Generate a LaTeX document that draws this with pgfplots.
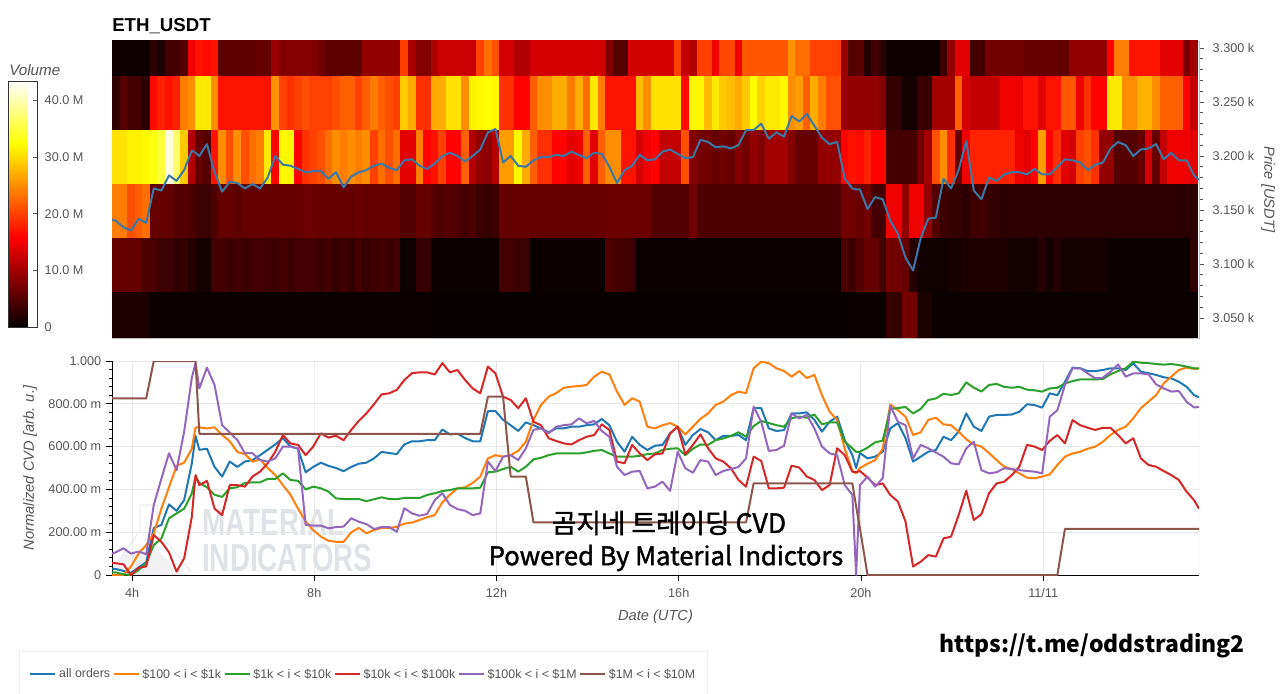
\documentclass[border=0pt]{standalone}
\usepackage{fontspec}
\setmainfont{Liberation Sans}
\newfontfamily\cjk[FakeBold=1.5]{Noto Sans CJK KR}
\newfontfamily\cjkb{Noto Sans CJK KR}
\usepackage{pgfplots}
\usepackage{pgfplotstable}
\pgfplotsset{compat=1.18}

\definecolor{tickc}{HTML}{555555}
\definecolor{gridc}{HTML}{E8E8E8}
\definecolor{markc}{HTML}{DFE2E6}
\definecolor{c1}{HTML}{1F77B4}
\definecolor{c2}{HTML}{FF7F0E}
\definecolor{c3}{HTML}{2CA02C}
\definecolor{c4}{HTML}{D62728}
\definecolor{c5}{HTML}{9467BD}
\definecolor{c6}{HTML}{8C564B}
\definecolor{pricec}{HTML}{3A78A8}

\pgfdeclareplotmark{cell}{%
  \pgfpathrectangle{\pgfpoint{-2.95pt}{-20.4pt}}{\pgfpoint{5.9pt}{40.8pt}}%
  \pgfusepathqfill}

% volume per 10 minute bin and price level, in millions
\pgfplotstableread{
x r3050 r3100 r3150 r3200 r3250 r3300
3.644 1.5 6 24 30.5 2.5 .5
3.811 1.5 6 24 30.5 5 .5
3.977 1.5 6 21 31.5 4 .5
4.144 1.5 6 22 31.5 4 .5
4.311 1.5 4.5 23 32 2.5 .5
4.477 .3 4.5 6 33 16.5 2.5
4.644 .3 3.5 6 35 18 1.5
4.811 .3 3.5 6 42 17 4
4.977 .3 2.5 5 37 18 4
5.144 .3 3 5 29 24 5
5.311 .3 2 4.5 11 25 15
5.477 .3 1 3.5 6 31 17
5.644 .3 1 3.5 5 31 16.5
5.811 .3 4 4.5 17 25 17
5.977 .3 4 6 25 17 5.5
6.144 .3 3.5 6 21 17 5.5
6.311 .3 4 5.5 25 17 5.5
6.477 .3 3.5 6 21 17 5.5
6.644 .3 4 6 23 17 5.5
6.811 .3 4 6 24 17 6
6.977 .3 3.5 6 31 17 6
7.144 .3 3.5 6 16 25.5 9.5
7.311 .3 4 6 32 20 8
7.477 .3 3.5 6 32 19 8
7.644 .3 4 6 16 20 8
7.811 .3 4 6.5 19 21 8
7.977 .3 4 6.5 20 20 8
8.144 .3 3.5 6 21 20 7
8.311 .3 4 6 23 20 5.5
8.477 .3 3 6 25 21 5.5
8.644 .3 3.5 6 24 22 5.5
8.811 .3 3 6 25 22 5.5
8.977 .3 4 6.5 24 20 5.5
9.144 .3 3 6 25 22 9
9.311 .3 3.5 6 20 24 9
9.477 .3 4 6 23 22 9
9.644 .3 3.5 6 21 21 9
9.811 .3 4 6 23 20 9
9.977 .3 .5 5 14 29 20
10.144 .3 .5 5 14 27 10.5
10.311 .3 3 6 24 19 8
10.477 .3 3 6 16 19 8
10.644 .2 .3 5 17 27 10.5
10.811 .2 .3 4.5 20 27 12.5
10.977 .2 .3 5 16 30.5 12.5
11.144 .2 .3 4.5 16 30.5 12.5
11.311 .2 .3 4 22 25 12.5
11.477 .2 .3 4.5 11 31.5 12.5
11.644 .2 .3 3.5 9 32 20
11.811 .2 .3 3 8.5 32.5 23
11.977 .2 .3 3.5 11 32 21
12.144 .2 4 6 26 19 13
12.311 .2 4 6 26 19 13
12.477 .2 3.5 6 32 16 11
12.644 .2 3.5 6 27 16 11
12.811 .2 .3 6 22 22 13
12.977 .2 .3 6 19 25 13
13.144 .2 .3 6 19 25 13
13.311 .2 .3 6 16 27 13
13.477 .2 .3 6 16 27 13
13.644 .2 .3 6 14 24 13
13.811 .2 .3 6 15 27 13
13.977 .2 .3 6 22 23 13
14.144 .2 .3 6 14 31 13
14.311 .2 .3 6 22 24 13
14.477 .2 4.5 6.5 25 17 8
14.644 .2 4 6.5 25 17 5
14.811 .2 4 6.5 17 17 5
14.977 .2 3.5 6.5 17 17 13
15.144 .2 .3 6.5 13 28 13
15.311 .2 .3 6.5 15 25 13
15.477 .2 .3 5 16 30.5 13
15.644 .2 .3 5 12 30.5 13
15.811 .2 .3 5 12 30.5 13
15.977 .2 .3 5 12 30.5 20
16.144 .2 .3 5 21 16.5 12
16.311 .2 .3 7 8 32 11
16.477 .2 .3 4.5 7 32 20
16.644 .2 .3 4.5 7 28 20
16.811 .2 .3 4.5 6 31 15
16.977 .2 .3 4.5 7 29 20.5
17.144 .2 .3 4.5 6 28 20.5
17.311 .2 .3 4.5 8 27 15
17.477 .2 .3 4.5 7 29 21.5
17.644 .2 .3 4.5 9 32.5 21.5
17.811 .2 .3 4.5 8 29.5 21.5
17.977 .2 .3 4.5 10 31 21.5
18.144 .2 .3 4.5 10 31 21.5
18.311 .2 .3 4.5 10 32 21.5
18.477 .2 .3 4.5 8 25 25.5
18.644 .2 .3 4.5 6 26 23
18.811 .2 .3 4.5 6 22 23
18.977 .2 .3 4.5 6 27 20
19.144 .2 .3 4.5 9 24 20
19.311 .2 .3 4.5 9 21 20
19.477 .2 .3 4.5 9 21 20
19.644 .2 4.5 7 16 9.5 9.5
19.811 .4 3.5 7 17 9 5
19.977 .4 5 6 16.5 9 5.5
20.144 .4 6 7 18 9 2
20.311 .4 6 4 16 9 4
20.477 .4 4 4 16 8 2.5
20.644 3 7 15 4 3 .5
20.811 3 7 15 4 3 .5
20.977 7 6 9 4 1 .5
21.144 7 2 15 4 1 .5
21.311 1.5 .7 15 7 3.5 .5
21.477 1.5 .7 9 10 3 .5
21.644 .3 .7 5 21 10 .5
21.811 .3 .7 3.5 25 10 3.5
21.977 .3 1.2 3 19 10 9
22.144 .3 1.2 3 6 22 14
22.311 .3 1.5 2.5 15 13 14
22.477 .3 1.5 3.5 18 12 4
22.644 .3 1.5 4 18 12 4
22.811 .3 1.5 3 18 12 7
22.977 .3 1.5 3 18 12 7
23.144 .3 1.5 2.5 18 15 7
23.311 .3 1 2.5 18 15 7
23.477 .3 1 2.5 15 15 7
23.644 .3 1 2.5 14 17 6
23.811 .3 1 2.5 16 17 6
23.977 .3 2 2.5 26 14 6
24.144 .3 1 2.5 16 17 6
24.311 .3 2 2.5 19 17 6
24.477 .3 1 2.5 14 21.5 6
24.644 .3 1 2.5 13 21.5 9
24.811 .3 1.2 2.5 20 15 9
24.977 .3 1.2 2.5 21 19 9
25.144 .3 1.2 2.5 19 16 9
25.311 .3 1.2 2.5 9 16 9
25.477 .3 .3 2.5 9 31 16
25.644 .3 .3 2.5 5 31 24
25.811 .3 .3 2.5 5 25 24
25.977 .3 .3 2.5 5 25 17
26.144 .3 .3 2.5 6 27.5 17
26.311 .3 .3 2.5 13 27.5 17
26.477 .3 .3 2.5 6 25 17
26.644 .3 .3 2.5 12 22 14
26.811 .3 .3 2.5 15 22 14
26.977 .3 .3 2.5 15 22 14
27.144 .3 .3 2.5 15 16 7.5
27.311 .3 2.5 2.5 14 12 10
}\heat

% normalized cvd per order size, and price
\pgfplotstableread{
x a b c d e f price
3.56 .03 0 .012 .055 .10 .825 3141
3.644 .028 0 .012 .055 .106 .825 3140
3.811 .019 0 .003 .05 .125 .825 3134
3.977 .01 .04 0 0 .10 .825 3131
4.144 .035 .10 .023 .034 .11 .825 3142
4.311 .06 .14 .055 .04 .097 .825 3138
4.477 .22 .195 .14 .187 .327 1 3170
4.644 .234 .31 .17 .155 .45 1 3168
4.811 .33 .41 .265 .106 .569 1 3182
4.977 .30 .51 .288 .016 .49 1 3177
5.144 .35 .525 .31 .078 .67 1 3187
5.311 .52 .59 .38 .27 .92 1 3205
5.394 .65 .69 .46 .467 .99 1 3203
5.477 .585 .69 .43 .42 .872 .66 3200
5.644 .59 .685 .41 .44 .969 .66 3211
5.811 .505 .69 .375 .31 .888 .66 3185
5.977 .46 .655 .365 .28 .70 .66 3167
6.144 .53 .625 .405 .42 .666 .66 3176
6.311 .505 .575 .41 .42 .631 .66 3175
6.477 .53 .565 .43 .413 .569 .66 3170
6.644 .537 .53 .433 .46 .569 .66 3174
6.811 .56 .54 .433 .483 .537 .66 3170
6.977 .585 .50 .449 .522 .53 .66 3180
7.144 .61 .467 .449 .576 .545 .66 3200
7.311 .64 .42 .475 .654 .60 .66 3192
7.477 .60 .375 .444 .615 .60 .66 3191
7.644 .59 .31 .44 .608 .592 .66 3188
7.811 .48 .25 .40 .56 .234 .66 3185
7.977 .505 .21 .413 .60 .231 .66 3186
8.144 .525 .18 .405 .662 .231 .66 3186
8.311 .51 .16 .39 .642 .218 .66 3179
8.477 .50 .155 .358 .651 .224 .66 3185
8.644 .485 .155 .355 .63 .226 .66 3171
8.811 .505 .20 .355 .678 .265 .66 3181
8.977 .52 .22 .355 .72 .249 .66 3185
9.144 .525 .195 .345 .755 .238 .66 3187
9.311 .545 .21 .354 .798 .215 .66 3191
9.477 .575 .22 .363 .844 .224 .66 3193
9.644 .57 .22 .355 .849 .224 .66 3189
9.811 .565 .225 .354 .865 .202 .66 3187
9.977 .61 .24 .36 .911 .312 .66 3196
10.144 .625 .245 .36 .943 .288 .66 3197
10.311 .625 .257 .36 .947 .277 .66 3191
10.477 .63 .27 .374 .947 .285 .66 3188
10.644 .63 .28 .382 .937 .35 .66 3193
10.811 .68 .34 .392 .99 .382 .66 3200
10.977 .657 .375 .397 .947 .327 .66 3203
11.144 .66 .405 .405 .958 .308 .66 3200
11.311 .64 .41 .405 .911 .30 .66 3195
11.477 .625 .43 .405 .872 .28 .66 3200
11.644 .625 .46 .408 .849 .288 .66 3206
11.811 .766 .545 .48 .974 .53 .833 3222
11.977 .766 .56 .483 .942 .486 .833 3225
12.144 .725 .553 .495 .833 .553 .833 3194
12.311 .70 .56 .506 .818 .56 .46 3200
12.477 .673 .58 .483 .779 .537 .46 3191
12.644 .713 .623 .506 .826 .592 .46 3190
12.811 .70 .725 .54 .716 .678 .246 3196
12.977 .685 .795 .548 .70 .685 .246 3199
13.144 .667 .833 .56 .639 .662 .246 3199
13.311 .685 .85 .568 .626 .693 .246 3201
13.477 .685 .875 .568 .615 .70 .246 3200
13.644 .693 .88 .568 .61 .704 .246 3204
13.811 .693 .883 .568 .63 .732 .246 3201
13.977 .70 .888 .573 .646 .709 .246 3198
14.144 .704 .927 .58 .654 .72 .246 3203
14.311 .729 .95 .584 .704 .673 .246 3202
14.477 .70 .938 .568 .678 .646 .246 3190
14.644 .623 .857 .553 .53 .506 .246 3175
14.811 .576 .795 .553 .522 .467 .246 3187
14.977 .646 .826 .553 .608 .483 .246 3191
15.144 .608 .81 .557 .568 .486 .246 3201
15.311 .584 .693 .565 .537 .405 .246 3196
15.477 .604 .685 .568 .564 .413 .246 3197
15.644 .608 .70 .584 .568 .436 .246 3204
15.811 .662 .71 .59 .662 .393 .246 3206
15.977 .693 .693 .592 .693 .576 .246 3202
16.144 .608 .657 .56 .564 .499 .246 3198
16.311 .654 .693 .59 .608 .478 .246 3199
16.477 .682 .73 .61 .657 .537 .246 3215
16.644 .667 .755 .608 .592 .53 .246 3213
16.811 .63 .795 .63 .545 .467 .246 3208
16.977 .65 .81 .638 .53 .486 .246 3209
17.144 .65 .84 .65 .499 .495 .246 3207
17.311 .654 .857 .667 .444 .505 .246 3210
17.477 .63 .85 .646 .413 .545 .246 3224
17.644 .78 .966 .696 .553 .787 .428 3224
17.811 .78 .997 .72 .533 .716 .428 3230
17.977 .685 .99 .71 .405 .58 .428 3216
18.144 .673 .966 .70 .405 .584 .428 3222
18.311 .677 .953 .693 .408 .604 .428 3218
18.477 .755 .927 .732 .511 .755 .428 3237
18.644 .755 .953 .74 .502 .732 .428 3232
18.811 .76 .92 .735 .46 .748 .428 3239
18.977 .725 .935 .75 .444 .685 .428 3228
19.144 .67 .84 .704 .397 .60 .428 3217
19.311 .716 .763 .713 .42 .569 .428 3211
19.477 .74 .725 .713 .592 .56 .428 3213
19.644 .63 .59 .623 .56 .42 .428 3179
19.811 .56 .486 .592 .483 .374 .428 3170
19.894 .50 .475 .575 .48 0 .32 3169
19.977 .57 .50 .576 .486 .42 .218 3169
20.144 .545 .52 .595 .455 .46 0 3151
20.311 .553 .537 .62 .42 .413 0 3162
20.477 .576 .59 .628 .428 .452 0 3160
20.644 .685 .797 .776 .374 .79 0 3140
20.811 .71 .77 .78 .343 .716 0 3128
20.977 .64 .74 .785 .25 .70 0 3106
21.144 .53 .654 .755 .04 .545 0 3094
21.311 .553 .667 .776 .062 .608 0 3124
21.477 .576 .725 .818 .093 .592 0 3142
21.644 .584 .735 .825 .086 .572 0 3143
21.811 .646 .704 .847 .171 .553 0 3179
21.977 .63 .70 .841 .179 .522 0 3170
22.144 .67 .67 .849 .28 .517 0 3187
22.311 .755 .634 .90 .394 .592 0 3214
22.477 .693 .61 .875 .257 .623 0 3168
22.644 .673 .60 .857 .284 .49 0 3160
22.811 .74 .57 .888 .382 .475 0 3180
22.977 .748 .537 .893 .428 .48 0 3177
23.144 .748 .506 .879 .436 .499 0 3183
23.311 .75 .495 .875 .467 .495 0 3185
23.477 .763 .475 .879 .506 .49 0 3185
23.644 .798 .455 .866 .608 .486 0 3183
23.811 .794 .452 .863 .60 .483 0 3188
23.977 .782 .46 .857 .584 .475 0 3183
24.144 .849 .47 .872 .627 .74 0 3183
24.311 .84 .514 .875 .654 .77 0 3190
24.477 .903 .553 .895 .615 .888 .215 3197
24.644 .969 .568 .906 .724 .966 .215 3196
24.811 .966 .576 .914 .70 .966 .215 3194
24.977 .953 .59 .914 .688 .942 .215 3187
25.144 .953 .60 .914 .678 .919 .215 3192
25.311 .958 .623 .916 .688 .922 .215 3194
25.477 .966 .654 .938 .688 .95 .215 3207
25.644 .966 .678 .953 .654 .984 .215 3213
25.811 .958 .693 .966 .615 .927 .215 3210
25.977 .989 .732 .997 .639 .942 .215 3200
26.144 .95 .78 .992 .545 .942 .215 3206
26.311 .943 .81 .99 .514 .938 .215 3207
26.477 .935 .84 .986 .506 .891 .215 3211
26.644 .924 .895 .983 .486 .872 .215 3197
26.811 .919 .927 .986 .467 .857 .215 3203
26.977 .903 .958 .981 .444 .86 .215 3196
27.144 .88 .969 .974 .39 .81 .215 3196
27.311 .841 .963 .966 .35 .783 .215 3182
27.42 .83 .965 .966 .31 .785 .215 3178
}\cvd

\begin{document}
\begin{tikzpicture}[x=1pt,y=1pt]
\path[use as bounding box] (0,0) rectangle (960,519.75);

% watermark sits under the lower plot
\fill[blue!20!black!5,draw=none] (84.75,88.5) -- (94,107) -- (105,105) -- (116,109) -- (129,96) -- (139.5,88.5) -- cycle;
\draw[markc!60,line width=1pt] (105,141) -- (117.75,141) -- (117.75,122) -- (142.5,92) -- (139.5,88.5) -- (84.75,88.5) -- (84,92) -- (105,122) -- cycle;
\node[anchor=west,inner sep=0,text=markc] at (151.5,127.6) {\resizebox{106.5pt}{19.5pt}{\bfseries MATERIAL}};
\node[anchor=west,inner sep=0,text=markc] at (151.5,101.5) {\resizebox{127.5pt}{20.5pt}{\bfseries INDICATORS}};

\begin{axis}[
  name=top,
  at={(84pt,266.25pt)}, anchor=south west,
  scale only axis, width=815.25pt, height=222.75pt,
  xmin=3.56, xmax=27.42, ymin=3031.5, ymax=3306.5,
  xtick=\empty,
  ytick={3050,3100,3150,3200,3250,3300},
  yticklabels={3.050 k,3.100 k,3.150 k,3.200 k,3.250 k,3.300 k},
  ytick pos=right, yticklabel pos=right,
  minor y tick num=4,
  tick align=outside,
  major tick length=3.75pt, minor tick length=3pt,
  tick style={tickc,line width=.6pt},
  axis line style={draw=black!25,line width=.6pt},
  yticklabel style={text=tickc,font=\fontsize{9.5}{11}\selectfont,xshift=3pt},
  ylabel={Price [USDT]},
  every axis y label/.style={at={(rel axis cs:1.0635,0.5)},anchor=center,rotate=-90,text=tickc,font=\fontsize{11}{13}\selectfont\itshape},
  clip marker paths=true,
  colormap={hotm}{rgb255(0pt)=(5,0,0) rgb255(365pt)=(255,0,0) rgb255(746pt)=(255,255,0) rgb255(1000pt)=(255,255,255)},
  point meta min=0, point meta max=43.45,
  colorbar,
  colorbar style={
    at={(-0.09476,0.8653)}, anchor=north west,
    width=21.75pt, height=184.5pt,
    ytick={0,10,20,30,40},
    yticklabels={0,10.0 M,20.0 M,30.0 M,40.0 M},
    ytick pos=right, yticklabel pos=right,
    minor y tick num=0,
    tick align=inside, major tick length=4pt,
    tick style={tickc,line width=.6pt},
    axis line style={draw=black!80,line width=.75pt},
    yticklabel style={text=tickc,font=\fontsize{9.5}{11}\selectfont,xshift=1.5pt},
    title={Volume},
    title style={at={(0,1)},anchor=south west,xshift=-1pt,yshift=-3pt,inner sep=1pt,text=tickc,font=\fontsize{11.4}{13}\selectfont\itshape},
  },
]
\pgfplotsinvokeforeach{3050,3100,3150,3200,3250,3300}{
  \addplot[scatter,only marks,mark=cell,scatter/use mapped color={fill=mapped color,draw=none},point meta=\thisrow{r#1}] table[x=x,y expr=#1-1] {\heat};
}
\addplot[pricec,line width=1.5pt,no markers,line join=round,point meta=none] table[x=x,y=price] {\cvd};
\end{axis}

\begin{axis}[
  name=bottom,
  at={(84pt,88.5pt)}, anchor=south west,
  scale only axis, width=815.25pt, height=160.5pt,
  xmin=3.56, xmax=27.42, ymin=0, ymax=1,
  axis lines=left,
  axis line style={-,black,line width=.75pt},
  xtick={4,8,12,16,20,24},
  xticklabels={4h,8h,12h,16h,20h,11/11},
  ytick={0,.2,.4,.6,.8,1},
  yticklabels={0,200.00 m,400.00 m,600.00 m,800.00 m,1.000},
  minor y tick num=4,
  tick align=outside,
  major tick length=4.5pt, minor tick length=2.25pt,
  tick style={black,line width=.6pt},
  grid=major,
  grid style={gridc,line width=.75pt},
  xticklabel style={text=tickc,font=\fontsize{9.5}{11}\selectfont,yshift=-2pt},
  yticklabel style={text=tickc,font=\fontsize{9.5}{11}\selectfont},
  xlabel={Date (UTC)},
  ylabel={Normalized CVD [arb. u.]},
  every axis x label/.style={at={(rel axis cs:0.5,0)},anchor=center,yshift=-31.5pt,text=tickc,font=\fontsize{11}{13}\selectfont\itshape},
  every axis y label/.style={at={(rel axis cs:-0.0754,0.5)},anchor=center,rotate=90,text=tickc,font=\fontsize{11}{13}\selectfont\itshape},
  legend columns=6,
  legend cell align=left,
  legend image code/.code={\path (0pt,0pt) -- (18.75pt,0pt);\draw[#1,line width=1.5pt] (0pt,0pt) -- (17.25pt,0pt);},
  legend style={
    at={(-0.08556,-0.3551)}, anchor=north west,
    draw=black!7, line width=.75pt, fill=white,
    inner xsep=7.5pt, inner ysep=11pt,
    font=\fontsize{9.3}{11}\selectfont,
    text=tickc,
  },
]
\draw[gridc,line width=.75pt] (rel axis cs:1,0) -- (rel axis cs:1,1);
\addplot[c1,line width=1.5pt,line join=round] table[x=x,y=a] {\cvd};
\addlegendentry{all orders}
\addplot[c2,line width=1.5pt,line join=round] table[x=x,y=b] {\cvd};
\addlegendentry{\$100 < i < \$1k}
\addplot[c3,line width=1.5pt,line join=round] table[x=x,y=c] {\cvd};
\addlegendentry{\$1k < i < \$10k}
\addplot[c4,line width=1.5pt,line join=round] table[x=x,y=d] {\cvd};
\addlegendentry{\$10k < i < \$100k}
\addplot[c5,line width=1.5pt,line join=round] table[x=x,y=e] {\cvd};
\addlegendentry{\$100k < i < \$1M}
\addplot[c6,line width=1.5pt,line join=round] table[x=x,y=f] {\cvd};
\addlegendentry{\$1M < i < \$10M}
\end{axis}

\node[anchor=west,inner sep=0] at (84,500.25) {\fontsize{14}{16}\selectfont\bfseries ETH\_USDT};
\node[inner sep=0] at (501.75,127.5) {\cjk\fontsize{20}{22}\selectfont 곰지네 트레이딩 CVD};
\node[inner sep=0] at (499.5,101.25) {\cjk\fontsize{19.2}{22}\selectfont Powered By Material Indictors};
\node[inner sep=0] at (819,35.5) {\cjkb\bfseries\fontsize{17.2}{20}\selectfont https://t.me/oddstrading2};
\end{tikzpicture}
\end{document}
